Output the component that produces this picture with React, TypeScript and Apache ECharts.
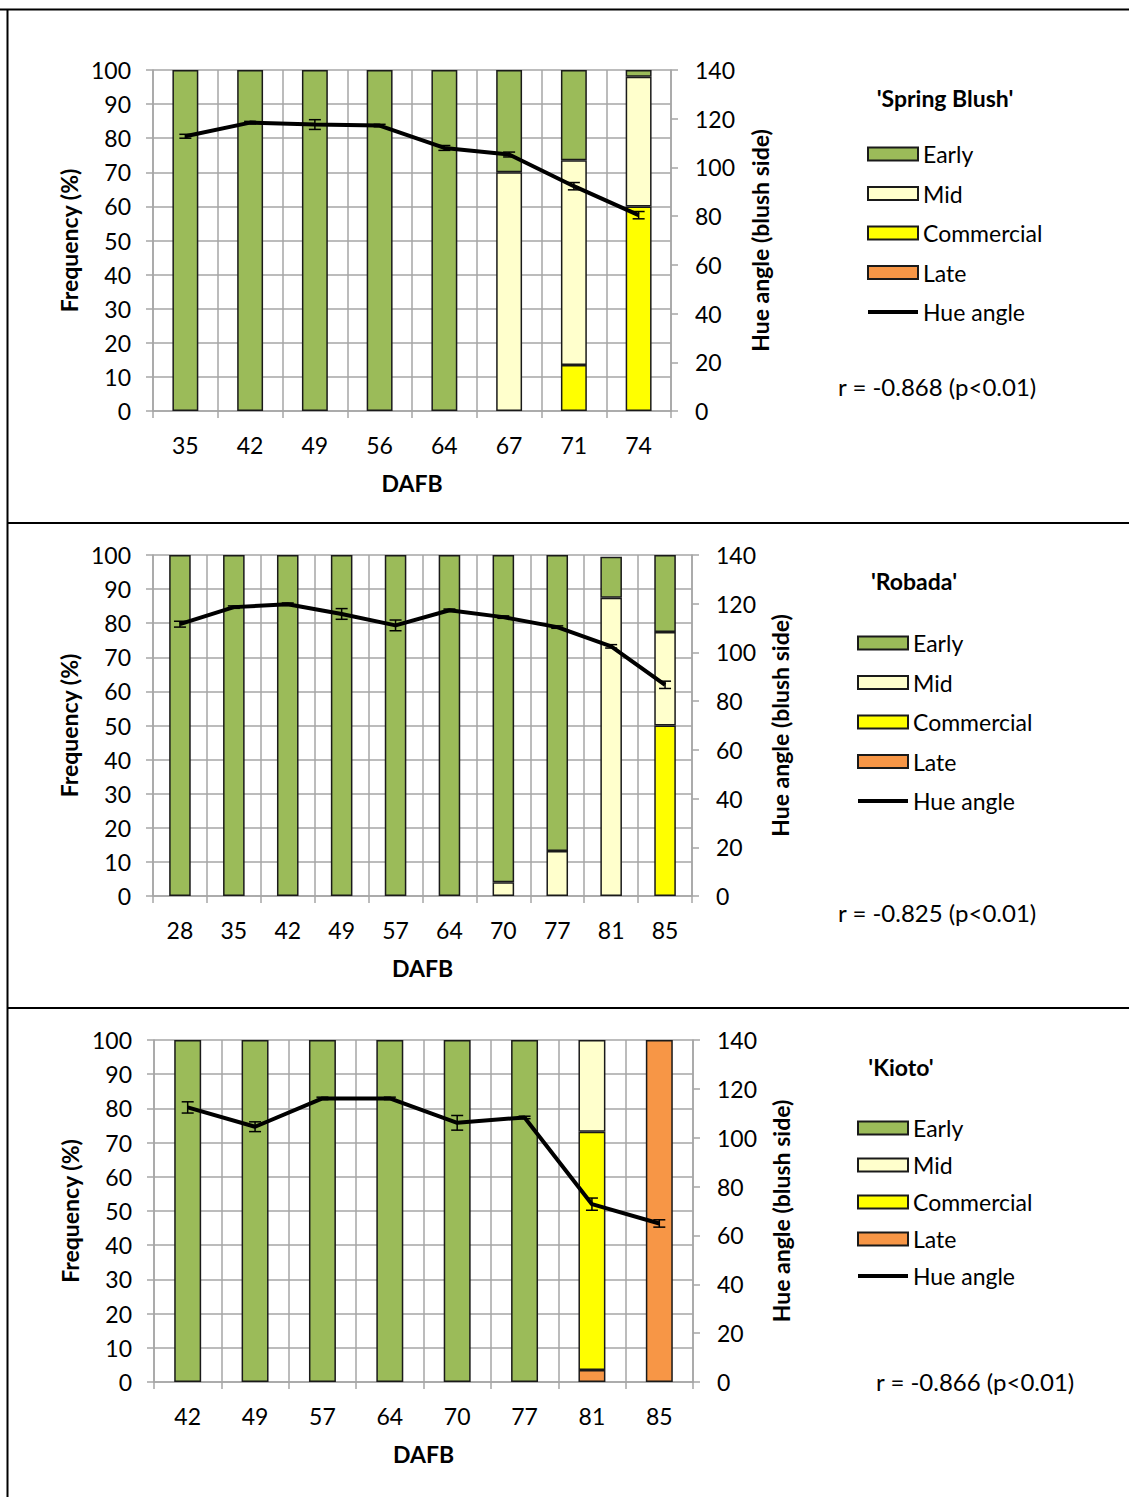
import React, { useEffect, useRef } from "react";
import * as echarts from "echarts";

// ---- Spring Blush ----
const sbDays = ["35", "42", "49", "56", "64", "67", "71", "74"];
const sbEarly = [100, 100, 100, 100, 100, 30, 26.5, 2];
const sbMid = [0, 0, 0, 0, 0, 70, 60, 38];
const sbCommercial = [0, 0, 0, 0, 0, 0, 13.5, 60];
const sbLate = [0, 0, 0, 0, 0, 0, 0, 0];
const sbHue = [112.8, 118.4, 117.6, 117.2, 108, 105.3, 92.3, 80.4];
const sbHueErr = [0.8, 0.5, 2, 0.5, 1, 1, 1.5, 1.5];

// ---- Robada ----
const rbDays = ["28", "35", "42", "49", "57", "64", "70", "77", "81", "85"];
const rbEarly = [100, 100, 100, 100, 100, 100, 96, 86.8, 12, 22.6];
const rbMid = [0, 0, 0, 0, 0, 0, 4, 13.2, 87.5, 27.4];
const rbCommercial = [0, 0, 0, 0, 0, 0, 0, 0, 0, 50];
const rbLate = [0, 0, 0, 0, 0, 0, 0, 0, 0, 0];
const rbHue = [111.6, 118.6, 119.8, 115.8, 111.1, 117.3, 114.5, 110.4, 102.5, 86.7];
const rbHueErr = [1.2, 0.5, 0.5, 2.2, 2.2, 0.5, 0.5, 0.5, 0.7, 1.5];

// ---- Kioto ----
const kiDays = ["42", "49", "57", "64", "70", "77", "81", "85"];
const kiEarly = [100, 100, 100, 100, 100, 100, 0, 0];
const kiMid = [0, 0, 0, 0, 0, 0, 26.8, 0];
const kiCommercial = [0, 0, 0, 0, 0, 0, 69.7, 0];
const kiLate = [0, 0, 0, 0, 0, 0, 3.5, 100];
const kiHue = [112.4, 104.5, 116.1, 116.1, 106.1, 108.3, 72.8, 64.9];
const kiHueErr = [2.3, 2, 0.5, 0.5, 3, 0.5, 2.5, 1.5];

const freqTicks = { min: 0, max: 100, interval: 10 };
const hueTicks = { min: 0, max: 140, interval: 20 };

const COLORS = {
  Early: "#9BBB59",
  Mid: "#FFFFCC",
  Commercial: "#FFFF00",
  Late: "#F79646",
};
const GRID_GRAY = "#A6A6A6";
const FONT = "Lato";

type Panel = {
  title: string;
  r: string;
  days: string[];
  early: number[];
  mid: number[];
  commercial: number[];
  late: number[];
  hue: number[];
  err: number[];
  grid: { left: number; top: number; width: number; height: number };
  legend: { left: number; top: number; gap: number };
  titlePos: [number, number];
  rPos: [number, number];
  rightNameGap: number;
};

const panels: Panel[] = [
  {
    title: "'Spring Blush'",
    r: "r = -0.868 (p<0.01)",
    days: sbDays,
    early: sbEarly,
    mid: sbMid,
    commercial: sbCommercial,
    late: sbLate,
    hue: sbHue,
    err: sbHueErr,
    grid: { left: 153, top: 70, width: 518, height: 341 },
    legend: { left: 862, top: 136, gap: 13.5 },
    titlePos: [945, 98],
    rPos: [838, 386],
    rightNameGap: 77,
  },
  {
    title: "'Robada'",
    r: "r = -0.825 (p<0.01)",
    days: rbDays,
    early: rbEarly,
    mid: rbMid,
    commercial: rbCommercial,
    late: rbLate,
    hue: rbHue,
    err: rbHueErr,
    grid: { left: 153, top: 555, width: 539, height: 341 },
    legend: { left: 852, top: 625, gap: 13.5 },
    titlePos: [914, 581],
    rPos: [838, 912],
    rightNameGap: 76,
  },
  {
    title: "'Kioto'",
    r: "r = -0.866 (p<0.01)",
    days: kiDays,
    early: kiEarly,
    mid: kiMid,
    commercial: kiCommercial,
    late: kiLate,
    hue: kiHue,
    err: kiHueErr,
    grid: { left: 154, top: 1040, width: 539, height: 342 },
    legend: { left: 852, top: 1110, gap: 11 },
    titlePos: [901, 1067],
    rPos: [876, 1381],
    rightNameGap: 76,
  },
];

const blankZero = (arr: number[]) => arr.map((v) => (v === 0 ? "-" : v));

function buildOption() {
  const grid: any[] = [];
  const xAxis: any[] = [];
  const yAxis: any[] = [];
  const series: any[] = [];
  const legend: any[] = [];
  const graphic: any[] = [];

  const labelStyle = { fontFamily: FONT, fontSize: 23, color: "#000" };
  const nameStyle = { fontFamily: FONT, fontSize: 23, fontWeight: "bold", color: "#000" };

  panels.forEach((p, i) => {
    grid.push({ ...p.grid });
    xAxis.push({
      type: "category",
      gridIndex: i,
      data: p.days,
      boundaryGap: true,
      name: "DAFB",
      nameLocation: "middle",
      nameGap: 60,
      nameTextStyle: nameStyle,
      axisLine: { show: true, lineStyle: { color: GRID_GRAY, width: 1.5 } },
      axisTick: { show: true, interval: 0, length: 7, lineStyle: { color: GRID_GRAY, width: 1.5 } },
      axisLabel: { ...labelStyle, margin: 22, interval: 0 },
      splitLine: { show: true, interval: 0, lineStyle: { color: GRID_GRAY, width: 1.5 } },
    });
    yAxis.push({
      type: "value",
      gridIndex: i,
      position: "left",
      ...freqTicks,
      name: "Frequency (%)",
      nameLocation: "middle",
      nameGap: 73,
      nameTextStyle: nameStyle,
      axisLine: { show: true, lineStyle: { color: GRID_GRAY, width: 1.5 } },
      axisTick: { show: true, length: 7, lineStyle: { color: GRID_GRAY, width: 1.5 } },
      axisLabel: { ...labelStyle, margin: 22 },
      splitLine: { show: true, lineStyle: { color: GRID_GRAY, width: 1.5 } },
    });
    yAxis.push({
      type: "value",
      gridIndex: i,
      position: "right",
      ...hueTicks,
      name: "Hue angle (blush side)",
      nameLocation: "middle",
      nameGap: p.rightNameGap,
      nameTextStyle: nameStyle,
      axisLine: { show: true, lineStyle: { color: GRID_GRAY, width: 1.5 } },
      axisTick: { show: true, length: 7, lineStyle: { color: GRID_GRAY, width: 1.5 } },
      axisLabel: { ...labelStyle, margin: 24 },
      splitLine: { show: false },
    });

    const stack = "stage" + i;
    const barBase = {
      type: "bar",
      xAxisIndex: i,
      yAxisIndex: i * 2,
      stack,
      barWidth: "40%",
    };
    const stages: [string, number[]][] = [
      ["Late", p.late],
      ["Commercial", p.commercial],
      ["Mid", p.mid],
      ["Early", p.early],
    ];
    stages.forEach(([name, vals]) => {
      series.push({
        ...barBase,
        name,
        data: blankZero(vals),
        itemStyle: {
          color: (COLORS as any)[name],
          borderColor: "#1a1a1a",
          borderWidth: 1.5,
        },
      });
    });

    series.push({
      type: "line",
      name: "Hue angle",
      xAxisIndex: i,
      yAxisIndex: i * 2 + 1,
      data: p.hue,
      symbol: "none",
      lineStyle: { color: "#000", width: 4 },
      itemStyle: { color: "#000" },
      z: 5,
    });

    series.push({
      type: "custom",
      name: "Hue error " + i,
      xAxisIndex: i,
      yAxisIndex: i * 2 + 1,
      data: p.hue.map((h, k) => [k, h - p.err[k], h + p.err[k]]),
      encode: { x: 0, y: [1, 2] },
      z: 6,
      renderItem: (params: any, api: any) => {
        const lo = api.coord([api.value(0), api.value(1)]);
        const hi = api.coord([api.value(0), api.value(2)]);
        const cap = 6;
        const style = { stroke: "#000", lineWidth: 1.5 };
        return {
          type: "group",
          children: [
            { type: "line", shape: { x1: lo[0], y1: lo[1], x2: hi[0], y2: hi[1] }, style },
            { type: "line", shape: { x1: lo[0] - cap, y1: lo[1], x2: lo[0] + cap, y2: lo[1] }, style },
            { type: "line", shape: { x1: hi[0] - cap, y1: hi[1], x2: hi[0] + cap, y2: hi[1] }, style },
          ],
        };
      },
    });

    legend.push({
      orient: "vertical",
      left: p.legend.left,
      top: p.legend.top,
      itemWidth: 50,
      itemHeight: 13,
      itemGap: p.legend.gap,
      selectedMode: false,
      textStyle: { fontFamily: FONT, fontSize: 23, color: "#000", lineHeight: 26 },
      data: [
        { name: "Early", icon: "rect" },
        { name: "Mid", icon: "rect" },
        { name: "Commercial", icon: "rect" },
        { name: "Late", icon: "rect" },
        {
          name: "Hue angle",
          icon: "path://M0,0 L52,0 L52,4.2 L0,4.2 Z",
          itemStyle: { color: "#000", borderWidth: 0 },
        },
      ],
    });

    graphic.push({
      type: "text",
      x: p.titlePos[0],
      y: p.titlePos[1],
      style: {
        text: p.title,
        fontFamily: FONT,
        fontSize: 23,
        fontWeight: "bold",
        fill: "#000",
        align: "center",
        verticalAlign: "middle",
      },
    });
    graphic.push({
      type: "text",
      x: p.rPos[0],
      y: p.rPos[1],
      style: {
        text: p.r,
        fontFamily: FONT,
        fontSize: 24,
        fill: "#000",
        align: "left",
        verticalAlign: "middle",
      },
    });
  });

  // Outer frame and panel separators
  const frame = (x1: number, y1: number, x2: number, y2: number, w: number) => ({
    type: "line",
    shape: { x1, y1, x2, y2 },
    style: { stroke: "#000", lineWidth: w },
    silent: true,
  });
  graphic.push(frame(0, 9.5, 1129, 9.5, 2));
  graphic.push(frame(7.5, 9, 7.5, 1497, 2));
  graphic.push(frame(7, 523, 1129, 523, 2));
  graphic.push(frame(7, 1008, 1129, 1008, 2));

  return {
    animation: false,
    backgroundColor: "#fff",
    grid,
    xAxis,
    yAxis,
    series,
    legend,
    graphic,
  };
}

export default function App() {
  const ref = useRef<HTMLDivElement>(null);
  useEffect(() => {
    document.body.style.margin = "0";
    if (!ref.current) return;
    const chart = echarts.init(ref.current, undefined, { renderer: "svg" });
    chart.setOption(buildOption() as any);
    return () => chart.dispose();
  }, []);
  return <div ref={ref} style={{ width: 1129, height: 1497 }} />;
}
